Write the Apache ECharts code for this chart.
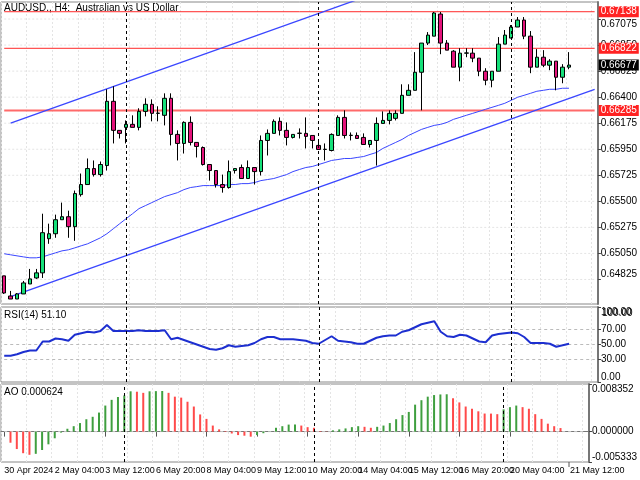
<!DOCTYPE html>
<html>
<head>
<meta charset="utf-8">
<script src="https://cdn.jsdelivr.net/npm/echarts@6/dist/echarts.min.js"></script>
<style>html,body{margin:0;padding:0;background:#fff}#main{width:640px;height:480px}</style>
</head>
<body>
<div id="main"></div>
<script>
// H4 candles: [open, close, low, high]
var candles = [
  [0.64856,0.64708,0.64700,0.64856],[0.64682,0.64656,0.64656,0.64726],[0.64656,0.64700,0.64656,0.64708],[0.64700,0.64795,0.64700,0.64812],
  [0.64786,0.64830,0.64786,0.64916],[0.64838,0.64882,0.64830,0.64916],[0.64882,0.65229,0.64838,0.65393],[0.65177,0.65220,0.65133,0.65307],
  [0.65220,0.65341,0.65185,0.65385],[0.65341,0.65367,0.65341,0.65489],[0.65367,0.65281,0.65185,0.65419],[0.65281,0.65567,0.65159,0.65593],
  [0.65558,0.65645,0.65541,0.65740],[0.65645,0.65783,0.65645,0.65870],[0.65783,0.65731,0.65714,0.65853],[0.65731,0.65818,0.65714,0.65844],
  [0.65809,0.66364,0.65766,0.66468],[0.66364,0.66113,0.66000,0.66494],[0.66113,0.66087,0.66043,0.66113],[0.66139,0.66165,0.66000,0.66199],
  [0.66165,0.66139,0.66139,0.66243],[0.66139,0.66277,0.66113,0.66304],[0.66277,0.66338,0.66234,0.66390],[0.66338,0.66260,0.66191,0.66381],
  [0.66260,0.66262,0.66191,0.66321],[0.66243,0.66390,0.66156,0.66433],[0.66390,0.66078,0.65983,0.66433],[0.66078,0.66000,0.65853,0.66113],
  [0.66000,0.66182,0.65913,0.66191],[0.66182,0.66009,0.65983,0.66234],[0.66009,0.65974,0.65879,0.66009],[0.65965,0.65818,0.65809,0.65974],
  [0.65818,0.65766,0.65679,0.65818],[0.65766,0.65645,0.65619,0.65766],[0.65645,0.65619,0.65575,0.65731],[0.65619,0.65757,0.65610,0.65853],
  [0.65766,0.65783,0.65740,0.65783],[0.65792,0.65697,0.65697,0.65818],[0.65697,0.65792,0.65697,0.65853],[0.65792,0.65757,0.65645,0.65792],
  [0.65757,0.66026,0.65723,0.66069],[0.66026,0.66087,0.65896,0.66121],[0.66087,0.66191,0.66087,0.66208],[0.66191,0.66113,0.66069,0.66225],
  [0.66113,0.66052,0.65983,0.66182],[0.66052,0.66078,0.66043,0.66078],[0.66087,0.66089,0.66043,0.66130],[0.66087,0.66061,0.65957,0.66225],
  [0.66069,0.66026,0.65957,0.66069],[0.65983,0.65948,0.65948,0.66026],[0.65948,0.65950,0.65853,0.66000],[0.65939,0.66078,0.65931,0.66087],
  [0.66069,0.66225,0.66069,0.66243],[0.66225,0.66069,0.66043,0.66286],[0.66069,0.66071,0.66026,0.66095],[0.66069,0.66043,0.66043,0.66095],
  [0.66052,0.65991,0.65991,0.66087],[0.65991,0.66026,0.65965,0.66026],[0.66026,0.66173,0.65809,0.66225],[0.66173,0.66199,0.66173,0.66277],
  [0.66199,0.66260,0.66165,0.66286],[0.66217,0.66260,0.66199,0.66286],[0.66260,0.66416,0.66260,0.66511],[0.66416,0.66459,0.66416,0.66511],
  [0.66459,0.66615,0.66459,0.66789],[0.66615,0.66867,0.66286,0.66867],[0.66867,0.66936,0.66850,0.66962],[0.66927,0.67127,0.66927,0.67136],
  [0.67118,0.66867,0.66771,0.67136],[0.66867,0.66806,0.66806,0.66893],[0.66797,0.66659,0.66659,0.66806],[0.66659,0.66780,0.66537,0.66823],
  [0.66780,0.66782,0.66745,0.66823],[0.66780,0.66737,0.66702,0.66823],[0.66737,0.66624,0.66581,0.66737],[0.66624,0.66546,0.66503,0.66650],
  [0.66546,0.66624,0.66485,0.66624],[0.66624,0.66858,0.66624,0.66919],[0.66858,0.66936,0.66858,0.66980],[0.66910,0.67006,0.66910,0.67023],
  [0.67006,0.67066,0.67006,0.67092],[0.67066,0.66927,0.66901,0.67092],[0.66927,0.66659,0.66607,0.66971],[0.66659,0.66745,0.66659,0.66815],
  [0.66745,0.66676,0.66659,0.66806],[0.66676,0.66711,0.66633,0.66728],[0.66711,0.66572,0.66459,0.66711],[0.66572,0.66659,0.66520,0.66685],
  [0.66659,0.66677,0.66641,0.66789]
];
var movingAvg = [
  0.65047,0.65038,0.65029,0.65020,0.65012,0.65012,0.65020,0.65038,0.65055,0.65072,
  0.65081,0.65098,0.65116,0.65133,0.65159,0.65185,0.65220,0.65263,0.65307,0.65350,
  0.65393,0.65437,0.65463,0.65489,0.65515,0.65541,0.65558,0.65575,0.65601,0.65619,
  0.65627,0.65636,0.65636,0.65636,0.65636,0.65645,0.65645,0.65653,0.65653,0.65662,
  0.65679,0.65688,0.65697,0.65714,0.65731,0.65757,0.65775,0.65792,0.65801,0.65818,
  0.65835,0.65853,0.65861,0.65870,0.65870,0.65879,0.65887,0.65905,0.65922,0.65957,
  0.65983,0.66009,0.66035,0.66069,0.66095,0.66121,0.66139,0.66156,0.66165,0.66182,
  0.66208,0.66225,0.66243,0.66260,0.66277,0.66295,0.66312,0.66329,0.66347,0.66373,
  0.66399,0.66416,0.66433,0.66451,0.66459,0.66468,0.66468,0.66477,0.66477
];
var rsi = [
  35,35,37,40,42,42,54,54,58,57,55,63,65,67,66,68,76,68,68,68,68,69,68,68,68,69,
  57,59,56,53,50,47,44,43,45,49,47,48,49,52,57,60,60,57,57,57,56,55,52,51,56,61,55,54,53,51,
  51,55,59,61,62,62,67,69,73,77,79,81,67,61,60,63,62,58,54,53,62,64,65,66,65,60,52,52,52,51,
  47,49,51.1
];
var ao = [
  null,-0.00195,-0.00306,-0.00379,-0.00407,-0.0039,-0.00323,-0.00223,-0.00117,-0.00017,
  0.0005,0.00095,0.0015,0.00217,0.0026,0.00334,0.00457,0.00557,0.00607,0.00635,
  0.00707,0.007,0.0068,0.00707,0.0071,0.00712,0.0068,0.00613,0.00596,0.00524,
  0.0044,0.00301,0.00223,0.00106,0.00039,0.00011,-0.00033,-0.00061,-0.00072,-0.00089,
  -0.00061,-0.00028,0.00003,0.00067,0.00095,0.00123,0.00125,0.00106,0.00078,0.00067,
  0.00011,0.00004,0.00022,0.00039,0.00056,0.00078,0.00095,0.00084,0.00067,0.00084,
  0.00106,0.0015,0.00217,0.0029,0.00345,0.00473,0.00551,0.00613,0.00641,0.00652,
  0.00655,0.00585,0.00512,0.0044,0.00401,0.00356,0.00317,0.00316,0.00306,0.0039,
  0.00429,0.00457,0.00429,0.00401,0.00306,0.00223,0.00139,0.00095,0.00062
];
var dateLabels = ['30 Apr 2024','2 May 04:00','3 May 12:00','6 May 20:00','8 May 04:00','9 May 12:00',
  '10 May 20:00','14 May 04:00','15 May 12:00','16 May 20:00','20 May 04:00','21 May 12:00'];
var priceTicks = [0.64825,0.65050,0.65275,0.65500,0.65725,0.65950,0.66175,0.66400,0.66625,0.66850,0.67075];
var rsiTicks = [0, 30, 50, 70, 100];
var aoTicks = [-0.005333, 0, 0.008352];
var levels = [0.67138, 0.66822, 0.66285];
var lastPrice = 0.66677;
var lowerTrend = [[1, 0.64677], [92, 0.66468]];
var upperTrend = [[1, 0.66176], [92, 0.67972]];
var separators = [19, 49, 79];

var FONT = 'Liberation Sans';
var nCat = 93;
var cats = [];
for (var i = 0; i < nCat; i++) cats.push(String(i));

var aoData = ao.map(function (v, i) {
  var up = i > 0 && ao[i - 1] !== null && v > ao[i - 1];
  return {value: v, itemStyle: {color: up ? '#3f9f3f' : '#ff4a4a'}};
});

var sepMark = {silent: true, symbol: 'none', label: {show: false},
  lineStyle: {color: '#000', type: [3, 3], width: 1},
  data: separators.map(function (s) { return {xAxis: s}; })};

function hLine(grid, v, style, label) {
  return {type: 'line', xAxisIndex: grid, yAxisIndex: grid, data: [[0, v], [nCat - 1, v]], symbol: 'none',
    silent: true, lineStyle: style, z: 1,
    endLabel: label ? {show: true, formatter: label.text, color: '#fff', backgroundColor: label.bg,
      fontFamily: FONT, fontSize: 10, padding: [1, 2, 0, 2], distance: 4} : {show: false}};
}

function xAx(grid, showLabels) {
  return {
    type: 'category', gridIndex: grid, data: cats, boundaryGap: true,
    axisLine: {show: showLabels, lineStyle: {color: '#777'}},
    axisTick: {show: showLabels, interval: 7, alignWithLabel: true, lineStyle: {color: '#555'}},
    axisLabel: {
      show: showLabels, interval: 7, color: '#000', fontFamily: FONT, fontSize: 9, align: 'left', margin: 4,
      hideOverlap: false, showMinLabel: true,
      formatter: function (v, idx) { return dateLabels[idx / 8] || ''; }
    },
    splitLine: {show: true, interval: 3, lineStyle: {color: '#e4e4e4', type: [2, 2]}}
  };
}
function yAx(grid, min, max, vals, fmt) {
  return {
    type: 'value', gridIndex: grid, position: 'right', min: min, max: max,
    axisLine: {show: true, lineStyle: {color: '#777', width: 2}},
    axisTick: {show: true, customValues: vals, length: 3, lineStyle: {color: '#444'}},
    axisLabel: {color: '#000', fontFamily: FONT, fontSize: 10, margin: 3, customValues: vals, formatter: fmt,
      showMinLabel: true, showMaxLabel: true, hideOverlap: false,
      verticalAlignMinLabel: 'bottom', verticalAlignMaxLabel: 'top'},
    splitLine: {show: false}
  };
}

var series = [];
priceTicks.forEach(function (v) { series.push(hLine(0, v, {color: '#e4e4e4', type: [2, 2], width: 1})); });
[70, 50, 30].forEach(function (v) { series.push(hLine(1, v, {color: '#bbb', type: [3, 3], width: 1})); });
series.push(hLine(2, 0, {color: '#ccc', type: [3, 3], width: 1}));
levels.forEach(function (v, k) {
  series.push(hLine(0, v, {color: k === 2 ? '#ff6a6a' : '#ff2a2a', width: k === 2 ? 2 : 1},
    {text: v.toFixed(5), bg: '#f22'}));
});
series.push(hLine(0, lastPrice, {opacity: 0}, {text: lastPrice.toFixed(5), bg: '#000'}));
series.push(
  {type: 'line', xAxisIndex: 0, yAxisIndex: 0, data: movingAvg, symbol: 'none', z: 3,
    lineStyle: {color: '#3a46ff', width: 1}, markLine: sepMark},
  {type: 'line', xAxisIndex: 0, yAxisIndex: 0, data: lowerTrend, symbol: 'none', z: 3, lineStyle: {color: '#3a46ff', width: 1.3}},
  {type: 'line', xAxisIndex: 0, yAxisIndex: 0, data: upperTrend, symbol: 'none', z: 3, lineStyle: {color: '#3a46ff', width: 1.3}},
  {type: 'candlestick', xAxisIndex: 0, yAxisIndex: 0, data: candles, barWidth: 4, z: 4,
    itemStyle: {color: '#16e07a', color0: '#e4137b', borderColor: '#000', borderColor0: '#000', borderWidth: 1}},
  {type: 'line', xAxisIndex: 1, yAxisIndex: 1, data: rsi, symbol: 'none', z: 3,
    lineStyle: {color: '#1d2fd0', width: 2}, markLine: sepMark},
  {type: 'bar', xAxisIndex: 2, yAxisIndex: 2, data: aoData, barWidth: 2, z: 3, markLine: sepMark}
);

var chart = echarts.init(document.getElementById('main'));
chart.setOption({
  animation: false,
  backgroundColor: '#fff',
  grid: [
    {left: 1, right: 42, top: 2, height: 302, show: true, borderColor: '#888', borderWidth: 1},
    {left: 1, right: 42, top: 307, height: 75, show: true, borderColor: '#888', borderWidth: 1},
    {left: 1, right: 42, top: 384, height: 78, show: true, borderColor: '#888', borderWidth: 1}
  ],
  xAxis: [xAx(0, false), xAx(1, false), xAx(2, true)],
  yAxis: [
    yAx(0, 0.64613, 0.67222, priceTicks, function (v) { return v.toFixed(5); }),
    yAx(1, 0, 100, rsiTicks, function (v) { return v.toFixed(2); }),
    yAx(2, -0.005333, 0.008352, aoTicks, function (v) { return v.toFixed(6); })
  ],
  graphic: [
    {type: 'text', left: 4, top: 3, style: {text: 'AUDUSD., H4:  Australian vs US Dollar', font: '10px Liberation Sans', fill: '#000'}},
    {type: 'text', left: 4, top: 310, style: {text: 'RSI(14) 51.10', font: '10px Liberation Sans', fill: '#000'}},
    {type: 'text', left: 4, top: 387, style: {text: 'AO 0.000624', font: '10px Liberation Sans', fill: '#000'}},
    // labels the axes drop at their ends
    {type: 'text', left: 602, top: 308, style: {text: (100).toFixed(2), font: '10px Liberation Sans', fill: '#000'}},
    {type: 'text', left: 570, top: 466, style: {text: dateLabels[11], font: '9px Liberation Sans', fill: '#000'}},
    {type: 'line', shape: {x1: 569, y1: 462, x2: 569, y2: 467}, style: {stroke: '#555'}}
  ],
  series: series
});
</script>
</body>
</html>
